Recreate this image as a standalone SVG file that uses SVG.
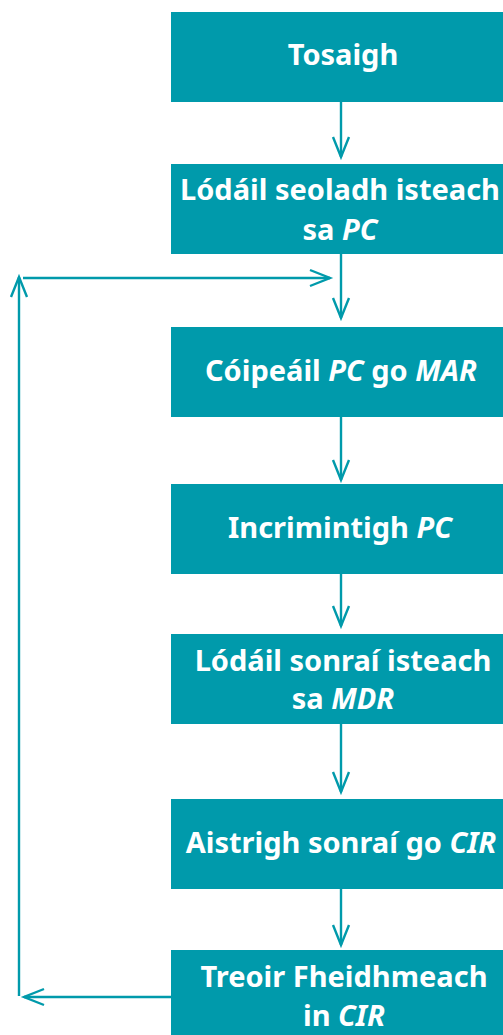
<svg xmlns="http://www.w3.org/2000/svg" width="503" height="1035" viewBox="0 0 503 1035">
  <style>
    .box { fill: #009aab; }
    .lbl { fill: #ffffff; font-family: "Noto Sans", "Liberation Sans", sans-serif; font-weight: 700; font-size: 29px; text-anchor: middle; }
    .it { font-style: italic; }
    .conn { stroke: #009aab; stroke-width: 2.4; fill: none; }
  </style>
  <defs>
    <marker id="chev" markerUnits="userSpaceOnUse" markerWidth="24" markerHeight="20" viewBox="-22 -10 24 20" refX="0" refY="0" orient="auto" overflow="visible">
      <path d="M-20,-8 L0,0 L-20,8" fill="none" stroke="#009aab" stroke-width="2.4"/>
    </marker>
  </defs>

  <g id="connectors">
    <path class="conn" d="M341,102 V157" marker-end="url(#chev)"/>
    <path class="conn" d="M341,254 V318" marker-end="url(#chev)"/>
    <path class="conn" d="M341,417 V480" marker-end="url(#chev)"/>
    <path class="conn" d="M341,574 V626" marker-end="url(#chev)"/>
    <path class="conn" d="M341,724 V792" marker-end="url(#chev)"/>
    <path class="conn" d="M341,889 V945" marker-end="url(#chev)"/>
    <!-- loop back from the last step to the top of the cycle -->
    <path class="conn" d="M171,997 H24" marker-end="url(#chev)"/>
    <path class="conn" d="M19,996 V277" marker-end="url(#chev)"/>
    <path class="conn" d="M23,278 H330" marker-end="url(#chev)"/>
  </g>

  <g id="start">
    <rect class="box" x="171" y="12" width="340" height="90"/>
    <text class="lbl" x="343" y="65">Tosaigh</text>
  </g>
  <g id="load-address">
    <rect class="box" x="171" y="164" width="340" height="90"/>
    <text class="lbl" x="340" y="200">Lódáil seoladh isteach</text>
    <text class="lbl" x="340" y="240">sa <tspan class="it">PC</tspan></text>
  </g>
  <g id="copy-pc">
    <rect class="box" x="171" y="327" width="340" height="90"/>
    <text class="lbl" x="341" y="381">Cóipeáil <tspan class="it">PC</tspan> go <tspan class="it">MAR</tspan></text>
  </g>
  <g id="increment">
    <rect class="box" x="171" y="484" width="340" height="90"/>
    <text class="lbl" x="340" y="538">Incrimintigh <tspan class="it">PC</tspan></text>
  </g>
  <g id="load-data">
    <rect class="box" x="171" y="634" width="340" height="90"/>
    <text class="lbl" x="343" y="671">Lódáil sonraí isteach</text>
    <text class="lbl" x="343" y="709">sa <tspan class="it">MDR</tspan></text>
  </g>
  <g id="transfer">
    <rect class="box" x="171" y="799" width="340" height="90"/>
    <text class="lbl" x="341" y="853">Aistrigh sonraí go <tspan class="it">CIR</tspan></text>
  </g>
  <g id="execute">
    <rect class="box" x="171" y="950" width="340" height="90"/>
    <text class="lbl" x="344" y="987">Treoir Fheidhmeach</text>
    <text class="lbl" x="344" y="1026">in <tspan class="it">CIR</tspan></text>
  </g>
</svg>
